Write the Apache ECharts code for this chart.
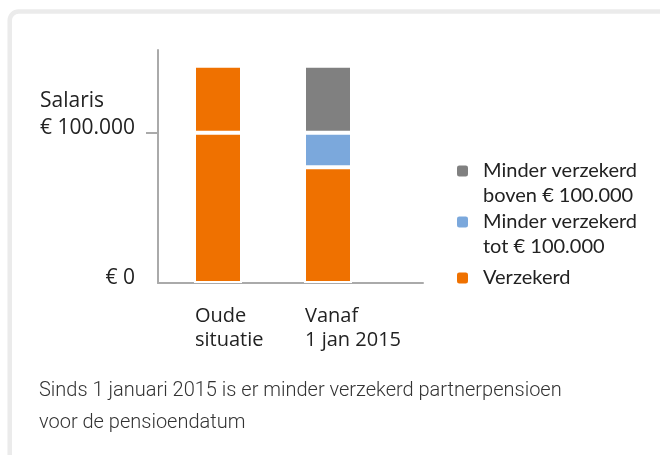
<!DOCTYPE html>
<html><head><meta charset="utf-8">
<script src="https://cdn.jsdelivr.net/npm/echarts@6/dist/echarts.min.js"></script>
<style>html,body{margin:0;padding:0;background:#fff}#c{width:660px;height:455px}</style>
</head><body><div id="c"></div>
<script>
var categories = ['Oude\nsituatie', 'Vanaf\n1 jan 2015'];
var verzekerd = [100000, 77000];
var verzekerdBoven = [44500, null];
var minderTot = [null, 23000];
var minderBoven = [null, 44500];
var yTickValues = [100000];
var yLabelValues = [0, 100000];
var legendNames = ['Minder verzekerd boven € 100.000', 'Minder verzekerd tot € 100.000', 'Verzekerd'];
var caption = 'Sinds 1 januari 2015 is er minder verzekerd partnerpensioen\nvoor de pensioendatum';

var ORANGE = '#ef7100', BLUE = '#7ba8dc', GRAY = '#808080', AXIS = '#aaaaaa';
var FONT = 'Lato', AFONT = 'Open Sans';
var chart = echarts.init(document.getElementById('c'), null, {renderer: 'canvas'});
var barStyle = function (c) { return {color: c, borderColor: '#fff', borderWidth: 2}; };
var legendText = {
  'Minder verzekerd boven € 100.000': '{t| }\n{t|Minder verzekerd}\n{t|boven € 100.000}',
  'Minder verzekerd tot € 100.000': '{t| }\n{t|Minder verzekerd}\n{t|tot € 100.000}',
  'Verzekerd': '{p| }\n{t|Verzekerd}\n{p| }'
};
chart.setOption({
  animation: false,
  graphic: [{
    type: 'rect', silent: true, z: -10,
    shape: {x: 9.7, y: 11.5, width: 700, height: 520, r: 9},
    style: {fill: 'none', stroke: '#ebebeb', lineWidth: 4.5}
  }],
  title: {
    text: caption, left: 39, top: 375, padding: 0,
    textStyle: {fontFamily: 'Roboto', fontWeight: 300, fontSize: 20, color: '#333', lineHeight: 32}
  },
  legend: {
    data: legendNames, orient: 'vertical', left: 455, top: 136, padding: 0,
    itemWidth: 13, itemHeight: 13, itemGap: -19, icon: 'roundRect', selectedMode: false,
    formatter: function (n) { return legendText[n]; },
    textStyle: {
      fontFamily: FONT, fontSize: 20, color: '#222', padding: [0, 0, 0, 9],
      rich: {t: {fontFamily: FONT, fontSize: 20, color: '#222', lineHeight: 25},
             p: {fontFamily: FONT, fontSize: 20, lineHeight: 35}}
    }
  },
  grid: [
    {left: 163, right: 277, top: 50, bottom: 172},
    {left: 158, right: 237, top: 50, bottom: 172}
  ],
  xAxis: [
    {gridIndex: 0, type: 'category', data: categories, axisLine: {show: false}, axisTick: {show: false},
     axisLabel: {interval: 0, align: 'left', padding: [0, 0, 0, -23], margin: 21, fontFamily: AFONT, fontSize: 20, color: '#222', lineHeight: 24}},
    {gridIndex: 1, type: 'category', data: categories, axisLine: {lineStyle: {color: AXIS, width: 2}},
     axisTick: {show: false}, axisLabel: {show: false}}
  ],
  yAxis: [
    {gridIndex: 0, type: 'value', min: 0, max: 155000, interval: 100000, show: false, splitLine: {show: false}},
    {gridIndex: 1, type: 'value', min: 0, max: 155000, interval: 100000, splitLine: {show: false},
     axisLine: {show: true, lineStyle: {color: AXIS, width: 2}},
     axisTick: {show: true, inside: false, length: 12, customValues: yTickValues, lineStyle: {color: AXIS, width: 2}},
     axisLabel: {
       customValues: yLabelValues, margin: 23, align: 'right', verticalAlign: 'bottom', padding: [0, 0, -9, 0],
       fontFamily: AFONT, fontSize: 21, color: '#222',
       formatter: function (v) { return v === 100000 ? '{s|Salaris}\n{v|€ 100.000}' : '{v|€ 0}'; },
       rich: {s: {fontFamily: AFONT, fontSize: 21, color: '#222', lineHeight: 27, width: 95, align: 'left'},
              v: {fontFamily: AFONT, fontSize: 21, color: '#222', lineHeight: 27}}
     }}
  ],
  series: [
    {name: 'Verzekerd', type: 'bar', stack: 's', xAxisIndex: 0, yAxisIndex: 0, barWidth: 48, data: verzekerd, itemStyle: barStyle(ORANGE)},
    {name: 'Minder verzekerd tot € 100.000', type: 'bar', stack: 's', xAxisIndex: 0, yAxisIndex: 0, barWidth: 48, data: minderTot, itemStyle: barStyle(BLUE)},
    {name: 'Minder verzekerd boven € 100.000', type: 'bar', stack: 's', xAxisIndex: 0, yAxisIndex: 0, barWidth: 48, data: minderBoven, itemStyle: barStyle(GRAY)},
    {name: 'Verzekerd (boven)', type: 'bar', stack: 's', xAxisIndex: 0, yAxisIndex: 0, barWidth: 48, data: verzekerdBoven, itemStyle: barStyle(ORANGE)}
  ]
});
</script></body></html>
